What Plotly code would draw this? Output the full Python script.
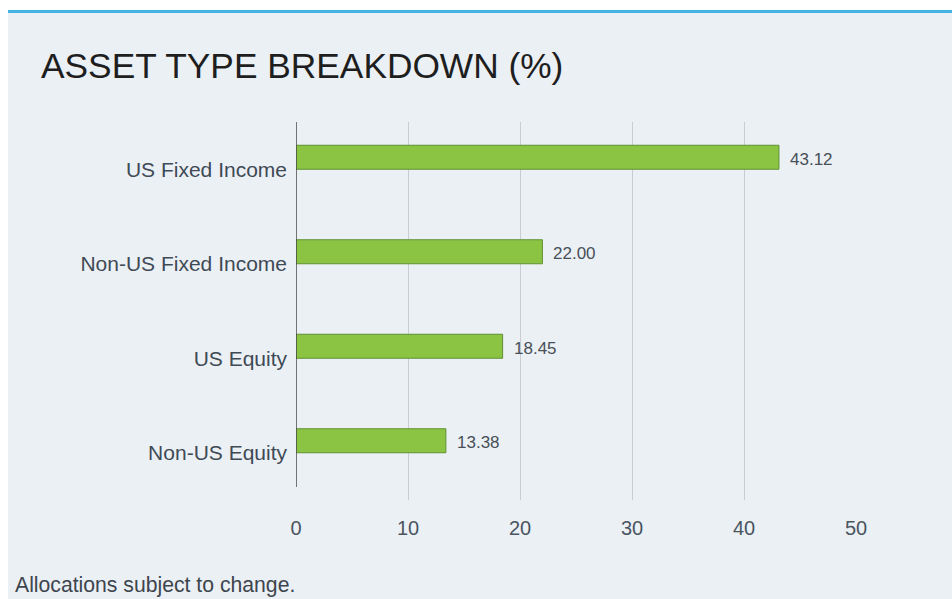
import plotly.graph_objects as go

categories = ["US Fixed Income", "Non-US Fixed Income", "US Equity", "Non-US Equity"]
values = [43.12, 22.00, 18.45, 13.38]
x_ticks = [0, 10, 20, 30, 40, 50]
title_text = "ASSET TYPE BREAKDOWN (%)"
footnote_text = "Allocations subject to change."

BG = "#ebf0f5"
FONT = "Liberation Sans"

W, H = 952, 599
L, R, T, B = 296, 96, 122, 99
pw, ph = W - L - R, H - T - B


def px(xr):
    return (xr - L) / pw


def py(yr):
    return (H - B - yr) / ph


fig = go.Figure()
fig.add_trace(go.Bar(
    y=categories,
    x=values,
    orientation="h",
    width=0.254,
    offset=-0.254,
    marker=dict(color="#8bc443", line=dict(color="#5f9131", width=1)),
    hoverinfo="skip",
))

annotations = []
for c, v in zip(categories, values):
    annotations.append(dict(
        x=v, y=c, xref="x", yref="y", text=f"{v:.2f}", showarrow=False,
        xanchor="left", yanchor="middle", xshift=9, yshift=10,
        font=dict(family=FONT, size=17, color="#474f57"),
    ))

annotations.append(dict(
    x=px(39), y=py(65), xref="paper", yref="paper", text=title_text,
    showarrow=False, xanchor="left", yanchor="middle",
    font=dict(family=FONT, size=35.3, color="#1e1e1e"),
))
annotations.append(dict(
    x=px(13), y=py(585), xref="paper", yref="paper", text=footnote_text,
    showarrow=False, xanchor="left", yanchor="middle",
    font=dict(family=FONT, size=21.2, color="#3d454d"),
))

shapes = [
    # white page margins
    dict(type="rect", xref="paper", yref="paper", x0=px(-5), x1=px(8), y0=py(610), y1=py(-5),
         fillcolor="white", line=dict(width=0), layer="below"),
    dict(type="rect", xref="paper", yref="paper", x0=px(-5), x1=px(970), y0=py(10), y1=py(-5),
         fillcolor="white", line=dict(width=0), layer="below"),
    # blue top rule
    dict(type="rect", xref="paper", yref="paper", x0=px(8), x1=px(970), y0=py(13), y1=py(10),
         fillcolor="#45b3e3", line=dict(width=0), layer="below"),
    # dark axis line
    dict(type="line", xref="x", yref="paper", x0=0, x1=0, y0=py(487), y1=1,
         line=dict(color="#4a4a4a", width=1.5), layer="above"),
]

fig.update_layout(
    width=W, height=H,
    margin=dict(l=L, r=R, t=T, b=B, pad=0),
    paper_bgcolor=BG, plot_bgcolor=BG,
    showlegend=False,
    annotations=annotations,
    shapes=shapes,
    font=dict(family=FONT),
    xaxis=dict(
        range=[0, 50], tickvals=x_ticks, showgrid=True, gridcolor="#c9cdd1", gridwidth=1,
        zeroline=False, showline=False, ticks="", ticklabelstandoff=14,
        tickfont=dict(family=FONT, size=20, color="#4a5560"), fixedrange=True,
    ),
    yaxis=dict(
        categoryorder="array", categoryarray=categories, autorange="reversed",
        showgrid=False, zeroline=False, showline=False, ticks="", ticklabelstandoff=8,
        tickfont=dict(family=FONT, size=21, color="#3f4a55"), fixedrange=True,
    ),
)

fig.write_html(
    "out.html",
    config={"displayModeBar": False},
    post_script=(
        "document.documentElement.style.overflow='hidden';"
        "document.body.style.overflow='hidden';"
        "document.body.style.margin='0';"
    ),
)
